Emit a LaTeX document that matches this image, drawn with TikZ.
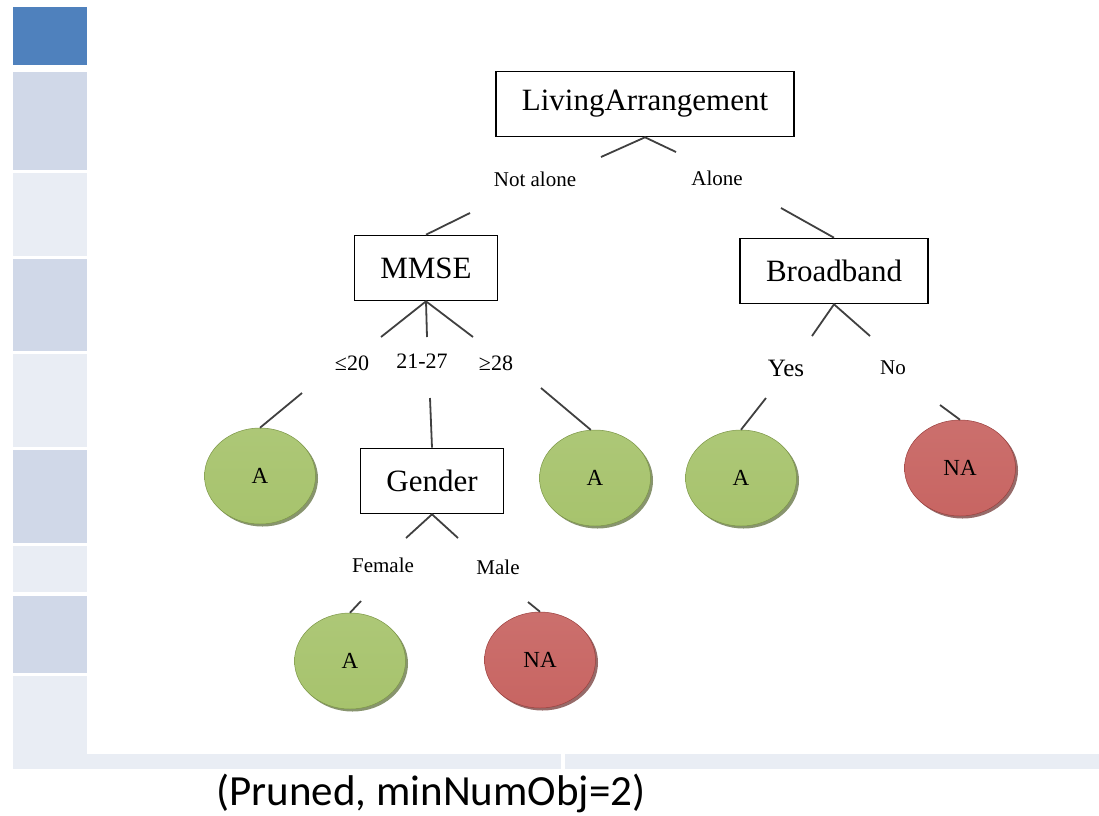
\documentclass[tikz,border=0pt]{standalone}
\usepackage{fontspec}
\setmainfont{Liberation Serif}
\newfontfamily\capfont{Carlito}
\usetikzlibrary{shapes.geometric,shadows}

\definecolor{tileDark}{HTML}{4F81BD}
\definecolor{tileMid}{HTML}{D0D8E8}
\definecolor{tileLight}{HTML}{E9EDF4}
\definecolor{leafGreen}{HTML}{9BBB59}
\definecolor{leafRed}{HTML}{C0504D}
\definecolor{edgeGray}{HTML}{404040}

\begin{document}
\begin{tikzpicture}[x=1pt,y=-1pt]
  \tikzset{
    split/.style={draw=black, line width=1.6pt, fill=white, inner xsep=26pt,
      minimum height=65pt, font=\fontsize{31}{31}\selectfont},
    leaf/.style={ellipse, minimum width=111pt, minimum height=96pt, inner sep=0pt,
      top color=#1!82!white, middle color=#1!92!black, bottom color=#1!88!white,
      draw=#1!80!black, line width=0.5pt,
      drop shadow={shadow xshift=2.5pt, shadow yshift=-2.5pt, fill=#1!55!black, opacity=0.7},
      font=\fontsize{23}{23}\selectfont},
    branch/.style={inner sep=1pt, font=\fontsize{21}{21}\selectfont},
    edge/.style={draw=edgeGray, line width=1.8pt}
  }
  \useasboundingbox (0,0) rectangle (1099,815);

  % Side tiles
  \fill[tileDark]  (13,7)   rectangle (87,65);
  \fill[tileMid]   (13,72)  rectangle (87,170);
  \fill[tileLight] (13,173) rectangle (87,256);
  \fill[tileMid]   (13,259) rectangle (87,351);
  \fill[tileLight] (13,354) rectangle (87,447);
  \fill[tileMid]   (13,450) rectangle (87,543);
  \fill[tileLight] (13,546) rectangle (87,592);
  \fill[tileMid]   (13,596) rectangle (87,673);
  \fill[tileLight] (13,676) rectangle (87,769);
  \fill[tileLight] (87,754) rectangle (561,769);
  \fill[tileLight] (565,754) rectangle (1099,769);

  % Split nodes
  \node[split] (la) at (645,104) {LivingArrangement};
  \node[split] (mmse) at (426,268) {MMSE};
  \node[split] (bb) at (834,271) {Broadband};
  \node[split] (gender) at (432,481) {Gender};

  % Leaves
  \node[leaf=leafGreen] (mmseLow) at (260,476) {A};
  \node[leaf=leafGreen] (mmseHigh) at (595,478) {A};
  \node[leaf=leafGreen] (bbYes) at (741,478) {A};
  \node[leaf=leafRed] (bbNo) at (960,468) {NA};
  \node[leaf=leafGreen] (genF) at (350,661) {A};
  \node[leaf=leafRed] (genM) at (540,660) {NA};

  % Branch labels
  \node[branch] (lblNotAlone) at (535,179) {Not alone};
  \node[branch] (lblAlone) at (717,178) {Alone};
  \node[branch, font=\fontsize{22}{22}\selectfont] (lblLow) at (352,363) {≤20};
  \node[branch, font=\fontsize{22}{22}\selectfont] (lblMid) at (422,361) {21-27};
  \node[branch, font=\fontsize{22}{22}\selectfont] (lblHigh) at (496,363) {≥28};
  \node[branch, font=\fontsize{25}{25}\selectfont] (lblYes) at (786,368) {Yes};
  \node[branch] (lblNo) at (893,368) {No};
  \node[branch] (lblFemale) at (383,565) {Female};
  \node[branch] (lblMale) at (498,567) {Male};

  % Free ends of the connectors
  \coordinate (laL) at (601,157);
  \coordinate (laR) at (676,152);
  \coordinate (naIn) at (470,213);
  \coordinate (alIn) at (781,208);
  \coordinate (lowOut) at (381,337);
  \coordinate (midOut) at (427,337);
  \coordinate (highOut) at (473,337);
  \coordinate (lowIn) at (302,393);
  \coordinate (midIn) at (430,398);
  \coordinate (highIn) at (541,388);
  \coordinate (yesOut) at (812,336);
  \coordinate (noOut) at (870,336);
  \coordinate (yesIn) at (766,398);
  \coordinate (noIn) at (940,405);
  \coordinate (femOut) at (406,538);
  \coordinate (maleOut) at (458,538);
  \coordinate (femIn) at (361,601);
  \coordinate (maleIn) at (528,602);

  % Connectors
  \draw[edge] (laL) -- (la.south) -- (laR);
  \draw[edge] (naIn) -- (mmse.north);
  \draw[edge] (alIn) -- (bb.north);
  \draw[edge] (lowOut) -- (mmse.south) -- (highOut);
  \draw[edge] (mmse.south) -- (midOut);
  \draw[edge] (lowIn) -- (mmseLow.north);
  \draw[edge] (midIn) -- (gender.north);
  \draw[edge] (highIn) -- (mmseHigh.95);
  \draw[edge] (yesOut) -- (bb.south) -- (noOut);
  \draw[edge] (yesIn) -- (bbYes.north);
  \draw[edge] (noIn) -- (bbNo.north);
  \draw[edge] (femOut) -- (gender.south) -- (maleOut);
  \draw[edge] (femIn) -- (genF.north);
  \draw[edge] (maleIn) -- (genM.north);

  % Caption
  \node (caption) at (431,793) {\capfont\fontsize{43}{43}\selectfont (Pruned, minNumObj=2)};
\end{tikzpicture}
\end{document}
